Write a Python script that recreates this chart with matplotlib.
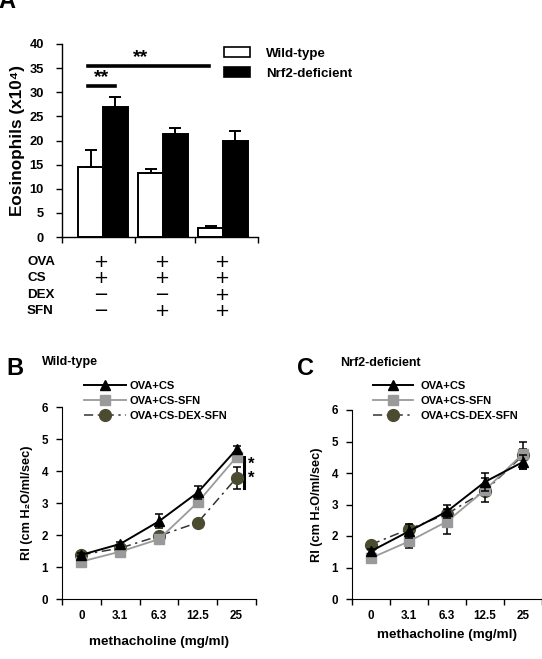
import matplotlib
matplotlib.use("Agg")
import matplotlib.pyplot as plt
from matplotlib.patches import Patch
from matplotlib.lines import Line2D
from matplotlib.transforms import blended_transform_factory

plt.rcParams['font.family'] = ['Liberation Sans', 'DejaVu Sans']
plt.rcParams['font.weight'] = 'bold'

# ---- Panel A data ----
wt_vals = [14.5, 13.2, 1.8]
wt_err = [3.5, 0.9, 0.5]
nrf_vals = [27.0, 21.3, 19.8]
nrf_err = [2.0, 1.2, 2.2]
a_yticks = [0, 5, 10, 15, 20, 25, 30, 35, 40]
treat_rows = ['OVA', 'CS', 'DEX', 'SFN']
treat_signs = [['+', '+', '+'],
               ['+', '+', '+'],
               ['\u2212', '\u2212', '+'],
               ['\u2212', '+', '+']]

# ---- Panels B/C data ----
doses = ['0', '3.1', '6.3', '12.5', '25']
series_names = ['OVA+CS', 'OVA+CS-SFN', 'OVA+CS-DEX-SFN']
wt_ovacs = [1.38, 1.72, 2.43, 3.33, 4.68]
wt_ovacs_err = [0.05, 0.06, 0.22, 0.2, 0.1]
wt_sfn = [1.17, 1.48, 1.87, 3.02, 4.44]
wt_sfn_err = [0.05, 0.05, 0.05, 0.05, 0.15]
wt_dex = [1.38, 1.59, 1.97, 2.39, 3.79]
wt_dex_err = [0.05, 0.05, 0.05, 0.05, 0.35]
ko_ovacs = [1.52, 2.15, 2.78, 3.72, 4.35]
ko_ovacs_err = [0.08, 0.22, 0.22, 0.28, 0.22]
ko_sfn = [1.30, 1.83, 2.46, 3.46, 4.61]
ko_sfn_err = [0.06, 0.2, 0.39, 0.37, 0.15]
ko_dex = [1.73, 2.22, 2.70, 3.43, 4.56]
ko_dex_err = [0.05, 0.05, 0.05, 0.05, 0.44]
rl_yticks = [0, 1, 2, 3, 4, 5, 6]

W, H = 542, 659
fig = plt.figure(figsize=(W / 100, H / 100), dpi=100)

def fx(px):
    return px / W

def fy(py):
    return 1 - py / H

# ================= Panel A =================
axA = fig.add_axes([fx(62), fy(237), fx(258) - fx(62), fy(44) - fy(237)])
x = list(range(len(wt_vals)))
w = 0.41
xw = [i - w / 2 for i in x]
xn = [i + w / 2 for i in x]
ekw = dict(ecolor='black', elinewidth=1.4, capsize=4, capthick=1.4)
axA.bar(xw, wt_vals, width=w, color='white', edgecolor='black', linewidth=1.4,
        yerr=[[0] * 3, wt_err], error_kw=ekw, zorder=3)
axA.bar(xn, nrf_vals, width=w, color='black', edgecolor='black', linewidth=1.4,
        yerr=[[0] * 3, nrf_err], error_kw=ekw, zorder=3)
axA.set_ylim(0, 40)
xl = (-0.68, 2.58)
axA.set_xlim(*xl)
axA.set_yticks(a_yticks)
axA.set_xticks([xl[0], 0.53, 1.53, xl[1]])
axA.set_xticklabels([])
axA.tick_params(axis='both', direction='out', length=4, width=1, labelsize=9.3)
axA.tick_params(axis='y', pad=9)
for s in ['top', 'right']:
    axA.spines[s].set_visible(False)
for s in ['left', 'bottom']:
    axA.spines[s].set_linewidth(1)
axA.set_ylabel('Eosinophils (x10\u2074)', fontsize=12.3, fontweight='bold', labelpad=3)
# significance
axA.plot([-0.25, 0.2], [31.3, 31.3], color='black', lw=2.6, clip_on=False)
axA.text(-0.02, 31.2, '**', ha='center', va='bottom', fontsize=14, fontweight='bold')
axA.plot([-0.25, 1.77], [35.5, 35.5], color='black', lw=2.6, clip_on=False)
axA.text(0.62, 35.4, '**', ha='center', va='bottom', fontsize=14, fontweight='bold')

legA = fig.legend(handles=[Patch(facecolor='white', edgecolor='black', linewidth=1.2),
                           Patch(facecolor='black', edgecolor='black', linewidth=1.2)],
                  labels=['Wild-type', 'Nrf2-deficient'], loc='upper left',
                  bbox_to_anchor=(fx(215), fy(38)), frameon=False, fontsize=9.6,
                  handlelength=1.95, handleheight=0.78, handletextpad=1.15, labelspacing=0.55,
                  borderpad=0.2)
for t in legA.get_texts():
    t.set_fontweight('bold')

fig.text(fx(-2), fy(2), 'A', fontsize=17, fontweight='bold', ha='left', va='center')

# treatment table
trans = blended_transform_factory(axA.transData, fig.transFigure)
row_y = [262, 278, 295, 311]
for r, name in enumerate(treat_rows):
    fig.text(fx(27), fy(row_y[r]), name, fontsize=9.6, fontweight='bold', ha='left', va='center')
    for c in range(3):
        axA.text(x[c] - 0.03, fy(row_y[r]), treat_signs[r][c], transform=trans, fontsize=13,
                 fontweight='normal', ha='center', va='center', family='DejaVu Sans')

# ================= Panels B & C =================
def line_panel(rect, ovacs, ovacs_err, sfn, sfn_err, dex, dex_err, title, letter, title_xy, letter_xy,
               leg_xy, hlen, tpad, xlabel_y):
    ax = fig.add_axes(rect)
    xi = list(range(len(doses)))
    ax.errorbar(xi, dex, yerr=dex_err, color='#333333', linestyle=(0, (6, 3, 1.5, 3)), lw=1.1,
                marker='o', markersize=8.5, markerfacecolor='#4b4b30', markeredgecolor='#4b4b30',
                ecolor='black', elinewidth=1.1, capsize=3, capthick=1.1, zorder=3)
    ax.errorbar(xi, sfn, yerr=sfn_err, color='#9a9a9a', linestyle='-', lw=1.3,
                marker='s', markersize=7, markerfacecolor='#9a9a9a', markeredgecolor='#9a9a9a',
                ecolor='black', elinewidth=1.1, capsize=3, capthick=1.1, zorder=4)
    ax.errorbar(xi, ovacs, yerr=ovacs_err, color='black', linestyle='-', lw=1.4,
                marker='^', markersize=6.5, markerfacecolor='black', markeredgecolor='black',
                ecolor='black', elinewidth=1.1, capsize=3, capthick=1.1, zorder=5)
    ax.set_ylim(0, 6)
    ax.set_xlim(-0.5, 4.5)
    ax.set_yticks(rl_yticks)
    ax.set_xticks(xi)
    ax.set_xticklabels(doses)
    ax.set_xticks([i + 0.5 for i in range(-1, 5)], minor=True)
    ax.tick_params(axis='x', which='major', length=0, pad=8, labelsize=8.4)
    ax.tick_params(axis='x', which='minor', length=4, width=1, direction='out')
    ax.tick_params(axis='y', length=4, width=1, direction='out', labelsize=8.4, pad=6)
    for lab in ax.get_xticklabels() + ax.get_yticklabels():
        lab.set_fontweight('bold')
    for s in ['top', 'right']:
        ax.spines[s].set_visible(False)
    ax.set_ylabel('RI (cm H\u2082O/ml/sec)', fontsize=9.2, fontweight='bold', labelpad=6)
    fig.text(*title_xy, title, fontsize=9, fontweight='bold', ha='left', va='center')
    fig.text(*letter_xy, letter, fontsize=17, fontweight='bold', ha='left', va='center')
    handles = [Line2D([], [], color='black', lw=1.4, marker='^', markersize=6.5),
               Line2D([], [], color='#9a9a9a', lw=1.3, marker='s', markersize=7),
               Line2D([], [], color='#333333', lw=1.1, linestyle=(0, (6, 3, 1.5, 3)), marker='o',
                      markersize=8.5, markerfacecolor='#4b4b30', markeredgecolor='#4b4b30')]
    leg = fig.legend(handles=handles, labels=series_names, loc='upper left', bbox_to_anchor=leg_xy,
                     frameon=False, fontsize=8, handlelength=hlen, handletextpad=tpad,
                     labelspacing=0.45, borderpad=0.1)
    for t in leg.get_texts():
        t.set_fontweight('bold')
    cx = rect[0] + rect[2] / 2
    fig.text(cx, xlabel_y, 'methacholine (mg/ml)', fontsize=9.7, fontweight='bold', ha='center', va='center')
    return ax

axB = line_panel([fx(62), fy(599), fx(256) - fx(62), fy(407) - fy(599)],
                 wt_ovacs, wt_ovacs_err, wt_sfn, wt_sfn_err, wt_dex, wt_dex_err,
                 'Wild-type', 'B', (fx(42), fy(362)), (fx(6), fy(368)), (fx(77), fy(374)), 3.8, 0.35, fy(642))
# significance marker in B
axB.plot([4.18, 4.18], [3.47, 4.44], color='black', lw=2.2, clip_on=False)
axB.text(4.37, 4.2, '*', fontsize=12, fontweight='bold', ha='center', va='center')
axB.text(4.37, 3.76, '*', fontsize=12, fontweight='bold', ha='center', va='center')

axC = line_panel([fx(352), fy(599), 1.0 - fx(352), fy(410) - fy(599)],
                 ko_ovacs, ko_ovacs_err, ko_sfn, ko_sfn_err, ko_dex, ko_dex_err,
                 'Nrf2-deficient', 'C', (fx(340), fy(363)), (fx(297), fy(368)), (fx(366), fy(374)), 3.6, 0.7,
                 fy(635))

fig.savefig('out.png', dpi=100)
